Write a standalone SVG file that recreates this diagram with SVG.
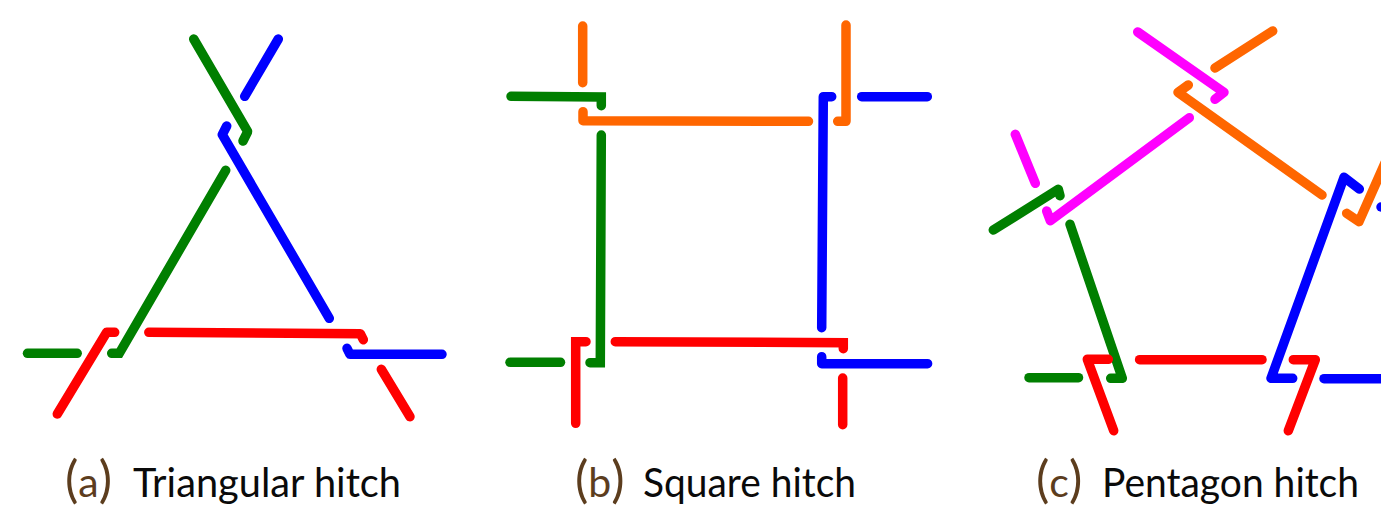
<svg xmlns="http://www.w3.org/2000/svg" width="1381" height="513" viewBox="0 0 1381 513">
<style>
.s{fill:none;stroke-width:9.5;stroke-linecap:round;stroke-linejoin:miter;stroke-miterlimit:10}
.j{stroke-linejoin:round}
.g{stroke:#007f00}.b{stroke:#0000ff}.r{stroke:#ff0000}.o{stroke:#ff6600}.m{stroke:#ff00ff}
text{font-family:"Lato","Noto Sans",sans-serif;font-size:41px;fill:#0a0a0a}
.n{fill:#5c3d1e}
.p{font-size:50px}
</style>
<rect width="1381" height="513" fill="#ffffff"/>
<g id="connectors">
<g id="triangular">
<polyline class="s g j" points="193.7,39 247.7,131.7 243,141"/>
<polyline class="s b" points="278.3,39 244.7,96.3"/>
<polyline class="s b j" points="226.7,126 222.3,134.7 329.3,318.3"/>
<polyline class="s g" points="225.7,170.3 119.3,353.3 111.7,353.3"/>
<polyline class="s g" points="27.5,353.3 77.2,353.3"/>
<polyline class="s r j" points="57.3,414 106.7,332.3 114.7,332.3"/>
<polyline class="s r j" points="148.8,332.3 360.3,333.7 363.3,339.7"/>
<polyline class="s b j" points="347,348.3 350,354.3 442,354.3"/>
<polyline class="s r" points="381.3,369.3 410,416.7"/>
</g>
<g id="square">
<polyline class="s o" points="582.7,26 582.7,82.7"/>
<polyline class="s g" points="511,96.3 601.3,97 601.3,105.7"/>
<polyline class="s o j" points="583,111.7 583,120.7 808.5,121.3"/>
<polyline class="s g" points="601.3,135 600.3,362.7 590,362.7"/>
<polyline class="s g" points="510,362.3 560.5,362.3"/>
<polyline class="s r" points="575.7,423.3 575.7,341.7 586,341.7"/>
<polyline class="s r" points="615.3,341.7 843.3,342.7 843.3,348.7"/>
<polyline class="s b j" points="821.7,356.7 821.7,363.7 927.6,363.7"/>
<polyline class="s r" points="842.7,378 842.7,424.7"/>
<polyline class="s b j" points="821.7,327.7 823.3,96.7 831.7,96.7"/>
<polyline class="s b" points="861.7,96.7 927.3,96.7"/>
<polyline class="s o j" points="846,25 846,121.3 837.7,121.3"/>
</g>
<g id="pentagon">
<polyline class="s m j" points="1137.7,32 1224,92.3 1215,99.3"/>
<polyline class="s o" points="1272.7,31 1215,68"/>
<polyline class="s o j" points="1188.3,85 1178,92.3 1322,195"/>
<polyline class="s m j" points="1189.3,117.7 1050.3,220.7 1046.7,211"/>
<polyline class="s m" points="1015.3,134.3 1035.3,183.3"/>
<polyline class="s g j" points="993.3,230 1058.3,189.3 1060,195.7"/>
<polyline class="s g j" points="1070,224.3 1122.3,378.3 1110.7,378.3"/>
<polyline class="s g" points="1029,377.7 1078.5,377.7"/>
<polyline class="s r j" points="1113.7,430.7 1087.3,359.3 1108.3,359.3"/>
<polyline class="s r" points="1139.6,359.7 1262,359.7"/>
<polyline class="s b j" points="1359.3,189 1344,177.3 1271,378.3 1292.7,378.3"/>
<polyline class="s r j" points="1293.3,359.7 1315.3,359.7 1288.3,430.7"/>
<polyline class="s b" points="1324,378.7 1390,378.7"/>
<polyline class="s o j" points="1346.7,213.3 1359,221.7 1385,163"/>
<polyline class="s b" points="1381,207 1395,207"/>
</g>
</g>
<g id="caption-a"><text class="n" x="65" y="497"><tspan class="p">(</tspan>a<tspan class="p">)</tspan></text><text x="133" y="497" textLength="268" lengthAdjust="spacingAndGlyphs">Triangular hitch</text></g>
<g id="caption-b"><text class="n" x="575" y="497"><tspan class="p">(</tspan>b<tspan class="p">)</tspan></text><text x="643" y="497" textLength="213" lengthAdjust="spacingAndGlyphs">Square hitch</text></g>
<g id="caption-c"><text class="n" x="1036" y="497"><tspan class="p">(</tspan>c<tspan class="p">)</tspan></text><text x="1102" y="497" textLength="257" lengthAdjust="spacingAndGlyphs">Pentagon hitch</text></g>
</svg>
